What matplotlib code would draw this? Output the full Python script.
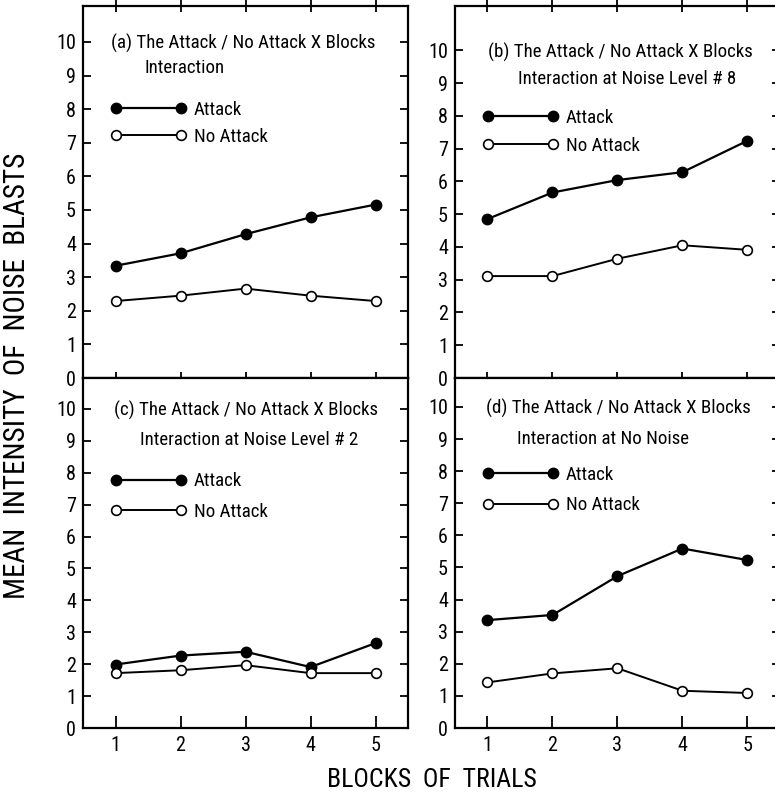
import matplotlib
matplotlib.use('Agg')
import matplotlib.pyplot as plt
from matplotlib import font_manager

# pick a narrow face if one is around, the original uses condensed lettering
fonts = font_manager.fontManager.ttflist
names = {f.name for f in fonts}
narrow = False
if 'Roboto Condensed' in names:
    plt.rcParams['font.family'] = ['Roboto Condensed', 'DejaVu Sans']
    narrow = True
elif any(f.name == 'DejaVu Sans' and str(f.stretch) in ('condensed', 'semi-condensed')
         for f in fonts):
    plt.rcParams['font.family'] = ['DejaVu Sans']
    plt.rcParams['font.stretch'] = 'condensed'
    narrow = True
else:
    plt.rcParams['font.family'] = ['DejaVu Sans']
fs = 13.6 if narrow else 11.2

blocks = [1, 2, 3, 4, 5]

attack_a = [3.34, 3.71, 4.28, 4.78, 5.16]
no_attack_a = [2.29, 2.45, 2.66, 2.45, 2.29]

attack_b = [4.85, 5.66, 6.04, 6.28, 7.24]
no_attack_b = [3.11, 3.11, 3.64, 4.05, 3.91]

attack_c = [1.99, 2.27, 2.39, 1.91, 2.66]
no_attack_c = [1.72, 1.81, 1.97, 1.72, 1.72]

attack_d = [3.36, 3.52, 4.73, 5.59, 5.23]
no_attack_d = [1.42, 1.70, 1.86, 1.16, 1.09]

titles = [
    ('(a) The Attack / No Attack X Blocks', 'Interaction'),
    ('(b) The Attack / No Attack X Blocks', 'Interaction at Noise Level # 8'),
    ('(c) The Attack / No Attack X Blocks', 'Interaction at Noise Level # 2'),
    ('(d) The Attack / No Attack X Blocks', 'Interaction at No Noise'),
]
yticks = list(range(11))

fig = plt.figure(figsize=(7.75, 7.96), dpi=100)
W, H = 775, 796

# panel boxes in pixels: left, bottom, width, height
boxes = [(83, 418, 325, 372), (455, 418, 325, 372),
         (83, 68, 325, 350), (455, 68, 325, 350)]
# each panel of the scan has its own y scale
ytops = [11.07, 11.35, 10.97, 10.9]
title_x = [0.93, 1.01, 0.98, 0.98]
title_y = [9.96, 9.93, 9.96, 9.95]
title_x2 = [1.44, 1.47, 1.38, 1.45]
title_y2 = [9.22, 9.11, 9.02, 9.01]
leg_y = [(7.98 + 7.18) / 2, (7.96 + 7.06) / 2, (7.76 + 6.76) / 2, (7.90 + 6.91) / 2]
leg_space = [0.45, 0.52, 0.65, 0.65]
series = [(attack_a, no_attack_a), (attack_b, no_attack_b),
          (attack_c, no_attack_c), (attack_d, no_attack_d)]

for i, (box, (att, noatt)) in enumerate(zip(boxes, series)):
    l, b, w, h = box
    ax = fig.add_axes([l / W, b / H, w / W, h / H])
    ax.set_xlim(0.5, 5.5)
    ax.set_ylim(0, ytops[i])
    for s in ax.spines.values():
        s.set_linewidth(1.6)

    la, = ax.plot(blocks, att, color='black', lw=1.6, marker='o', ms=7.5,
                  mfc='black', mec='black', label='Attack')
    ln, = ax.plot(blocks, noatt, color='black', lw=1.4, marker='o', ms=7,
                  mfc='white', mec='black', mew=1.2, label='No Attack')

    ax.legend(handles=[la, ln], loc='center left', numpoints=2,
              bbox_to_anchor=(0.92, leg_y[i]), bbox_transform=ax.transData,
              frameon=False, fontsize=fs, handlelength=46.8 / fs + 0.6,
              handletextpad=0.38, labelspacing=leg_space[i],
              borderpad=0, borderaxespad=0)

    ax.text(title_x[i], title_y[i], titles[i][0], fontsize=fs, ha='left', va='center')
    ax.text(title_x2[i], title_y2[i], titles[i][1], fontsize=fs, ha='left', va='center')

    ax.set_yticks(yticks)
    ax.set_xticks(blocks)
    ax.tick_params(axis='y', which='both', direction='in', left=True, right=True,
                   length=6, width=1.3, labelsize=14.5, pad=5)
    if i < 2:
        ax.tick_params(axis='x', direction='inout', top=True, bottom=True,
                       length=8, width=1.3, labelbottom=False)
    else:
        ax.tick_params(axis='x', direction='in', top=False, bottom=True,
                       length=9, width=1.3, labelsize=14.5, pad=6)

fig.text(17 / W, 0.528, 'MEAN  INTENSITY  OF  NOISE  BLASTS', rotation=90,
         ha='center', va='center', fontsize=21 if narrow else 16)
fig.text(432 / W, 16 / H, 'BLOCKS  OF  TRIALS', ha='center', va='center',
         fontsize=18.5 if narrow else 16)

fig.savefig('out.png', dpi=100)
